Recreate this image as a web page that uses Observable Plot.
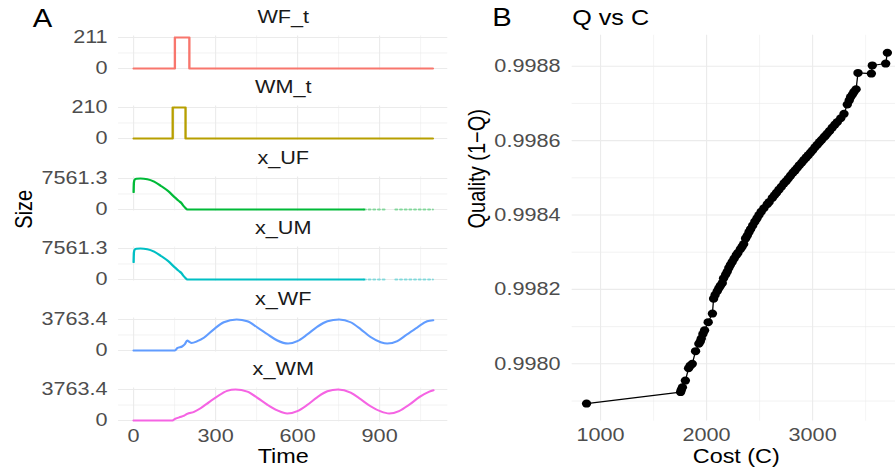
<!DOCTYPE html>
<html><head><meta charset="utf-8">
<script src="https://cdn.jsdelivr.net/npm/d3@7"></script>
<script src="https://cdn.jsdelivr.net/npm/@observablehq/plot@0.6"></script>
<style>
body{margin:0;background:#fff;overflow:hidden}
#wrap{position:relative;width:765px;height:473px;transform:scaleX(1.17);transform-origin:0 0;font-family:"Liberation Sans",Arial,sans-serif}
#wrap svg{position:absolute;overflow:visible;background:transparent}
</style></head><body><div id="wrap"></div><script>
// ---------- Panel A data ----------
const seriesNames = ["WF_t", "WM_t", "x_UF", "x_UM", "x_WF", "x_WM"];
const seriesColors = ["#F8766D", "#B79F00", "#00BA38", "#00BFC4", "#619CFF", "#F564E3"];
const seriesMax = [211, 210, 7561.3, 7561.3, 3763.4, 3763.4];
const seriesMaxLabels = ["211", "210", "7561.3", "7561.3", "3763.4", "3763.4"];
const timeTicks = [0, 300, 600, 900];
const timeMinor = [150, 450, 750, 1050];

const wfT_time = [0, 151, 151, 204, 204, 1095];
const wfT_size = [0, 0, 211, 211, 0, 0];
const wmT_time = [0, 143, 143, 190, 190, 1095];
const wmT_size = [0, 0, 210, 210, 0, 0];
const xUF_time = [0, 1, 3, 10, 25, 50, 75, 100, 125, 150, 165, 175, 182, 190, 196, 843];
const xUF_size = [4240, 6500, 7200, 7480, 7561.3, 7400, 6800, 5750, 4550, 3000, 2100, 1550, 900, 350, 0, 0];
const xUM_time = [0, 1, 3, 10, 25, 50, 75, 100, 125, 150, 165, 175, 182, 190, 196, 843];
const xUM_size = [4240, 6500, 7200, 7480, 7561.3, 7400, 6800, 5750, 4550, 3000, 2100, 1550, 900, 350, 0, 0];
const uTail_time = [843, 928, 958, 1095];
const uTail_seg = ["a", "a", "b", "b"];
const xWF_time = [0, 151, 160, 178, 188, 196, 204, 212, 233, 257, 294, 330, 377, 416, 453, 490, 526, 565, 599, 636, 672, 709, 752, 794, 831, 867, 904, 928, 965, 1001, 1038, 1074, 1096];
const xWF_size = [0, 0, 293, 500, 795, 1213, 1050, 920, 1130, 1547, 2592, 3429, 3763.4, 3554, 2800, 1965, 1213, 836, 1130, 1965, 2885, 3554, 3763.4, 3429, 2592, 1630, 1004, 836, 1130, 1965, 2800, 3554, 3680];
const xWM_time = [0, 143, 148, 167, 185, 196, 221, 245, 275, 306, 342, 373, 416, 453, 490, 526, 562, 599, 636, 672, 709, 748, 794, 831, 867, 904, 935, 971, 1008, 1045, 1082, 1097];
const xWM_size = [0, 0, 127, 380, 592, 803, 1057, 1480, 2199, 2918, 3594, 3763.4, 3510, 2749, 1903, 1226, 846, 1142, 1903, 2833, 3552, 3763.4, 3383, 2579, 1734, 1099, 846, 1142, 1903, 2833, 3510, 3678];

const seriesTime = [wfT_time, wmT_time, xUF_time, xUM_time, xWF_time, xWM_time];
const seriesSize = [wfT_size, wmT_size, xUF_size, xUM_size, xWF_size, xWM_size];

// ---------- Panel B data ----------
const cost = [868, 1755, 1762, 1772, 1800, 1830, 1845, 1865, 1896, 1927, 1940, 1950, 1965, 1981, 2015, 2055, 2066, 2080, 2100, 2115, 2130, 2148, 2160, 2180, 2195, 2210, 2225, 2242, 2260, 2280, 2295, 2318, 2335, 2350, 2368, 2384, 2400, 2415, 2435, 2455, 2475, 2494, 2515, 2540, 2572, 2590, 2620, 2640, 2660, 2682, 2705, 2730, 2750, 2770, 2792, 2815, 2835, 2855, 2875, 2898, 2918, 2940, 2960, 2981, 3000, 3022, 3044, 3065, 3085, 3107, 3120, 3138, 3160, 3185, 3210, 3233, 3265, 3296, 3327, 3345, 3358, 3375, 3390, 3410, 3428, 3554, 3563, 3689, 3705];
const quality = [0.997893, 0.997924, 0.997930, 0.997937, 0.997955, 0.997988, 0.997995, 0.998000, 0.998034, 0.998054, 0.998060, 0.998068, 0.998080, 0.998090, 0.998112, 0.998135, 0.998175, 0.998185, 0.998195, 0.998203, 0.998210, 0.998217, 0.998230, 0.998240, 0.998248, 0.998258, 0.998266, 0.998274, 0.998283, 0.998292, 0.998298, 0.998308, 0.998315, 0.998322, 0.998337, 0.998345, 0.998354, 0.998362, 0.998372, 0.998382, 0.998391, 0.998400, 0.998409, 0.998418, 0.998429, 0.998435, 0.998446, 0.998453, 0.998460, 0.998468, 0.998476, 0.998485, 0.998491, 0.998498, 0.998506, 0.998514, 0.998520, 0.998527, 0.998534, 0.998541, 0.998548, 0.998555, 0.998561, 0.998568, 0.998574, 0.998582, 0.998589, 0.998596, 0.998602, 0.998609, 0.998613, 0.998619, 0.998626, 0.998635, 0.998643, 0.998650, 0.998660, 0.998672, 0.998697, 0.998708, 0.998717, 0.998724, 0.998731, 0.998738, 0.998782, 0.998780, 0.998802, 0.998807, 0.998836];
const costTicks = [1000, 2000, 3000];
const costMinor = [1500, 2500, 3500];
const qualityTicks = [0.9980, 0.9982, 0.9984, 0.9986, 0.9988];
const qualityMinor = [0.9979, 0.9981, 0.9983, 0.9985, 0.9987];

// ---------- drawing ----------
const wrap = document.getElementById("wrap");
const FONT = "Liberation Sans, Arial, sans-serif";
const GRID = "#EBEBEB";
const TICK = "#4D4D4D";
function place(svg, left, top) {
  svg.style.position = "absolute";
  svg.style.left = left + "px";
  svg.style.top = top + "px";
  svg.style.overflow = "visible";
  svg.style.background = "transparent";
  wrap.appendChild(svg);
}

const FH = 70.4, MT = 35.45, PH = 34.1;
for (let k = 0; k < 6; k++) {
  const isLast = k === 5;
  const h = isLast ? 473 - FH * 5 : FH;
  const max = seriesMax[k];
  const data = seriesTime[k].map((t, i) => ({t, v: seriesSize[k][i]}));
  const marks = [
    Plot.ruleX(timeMinor, {stroke: GRID, strokeWidth: 0.5}),
    Plot.ruleX(timeTicks, {stroke: GRID, strokeWidth: 0.95}),
    Plot.ruleY([max / 2], {stroke: GRID, strokeWidth: 0.6}),
    Plot.ruleY([0, max], {stroke: GRID, strokeWidth: 1.1}),
    Plot.line(data, {x: "t", y: "v", stroke: seriesColors[k], strokeWidth: 2, curve: k < 2 ? "linear" : "monotone-x"}),
    Plot.axisY({ticks: [0, max], tickFormat: d => d === 0 ? "0" : seriesMaxLabels[k], tickSize: 0, tickPadding: 9.4, fontSize: 18.5, fill: TICK, label: null}),
    Plot.text([seriesNames[k]], {text: d => d, frameAnchor: "top", lineAnchor: "middle", dy: -18.45, fontSize: 18.5, fill: "#1A1A1A"})
  ];
  if (k === 2 || k === 3) {
    const tail = uTail_time.map((t, i) => ({t, v: 0, s: uTail_seg[i]}));
    marks.push(Plot.line(tail, {x: "t", y: "v", z: "s", stroke: seriesColors[k], strokeWidth: 1.8, strokeOpacity: 0.45, strokeDasharray: "1.5,2.5"}));
  }
  if (k === 0) marks.push(Plot.text(["A"], {text: d => d, frameAnchor: "top-left", textAnchor: "start", lineAnchor: "middle", dx: -73.5, dy: -17.45, fontSize: 25, fill: "#000"}));
  if (k === 2) marks.push(Plot.text(["Size"], {text: d => d, frameAnchor: "left", lineAnchor: "middle", rotate: -90, dx: -80.9, dy: 34.7, fontSize: 20, fill: "#000"}));
  if (isLast) {
    marks.push(Plot.axisX({ticks: timeTicks, tickFormat: d => String(d), tickSize: 0, tickPadding: 7, fontSize: 18.5, fill: TICK, label: null}));
    marks.push(Plot.text(["Time"], {text: d => d, frameAnchor: "bottom", lineAnchor: "middle", dy: 34.6, fontSize: 20, fill: "#000"}));
  }
  const svg = Plot.plot({
    width: 400, height: h,
    marginLeft: 100.9, marginRight: 17.7, marginTop: MT, marginBottom: h - MT - PH,
    x: isLast ? {domain: [-54.75, 1149.75]} : {domain: [-54.75, 1149.75], axis: null},
    y: {domain: [-0.05 * max, 1.05 * max]},
    style: {fontFamily: FONT, fontSize: "18.5px", background: "transparent", overflow: "visible"},
    marks
  });
  place(svg, 0, FH * k);
}

// Panel B
const qc = cost.map((c, i) => ({c, q: quality[i]}));
const svgB = Plot.plot({
  width: 365, height: 473,
  marginLeft: 88.6, marginRight: 0, marginTop: 34.8, marginBottom: 52.4,
  x: {domain: [733, 3783]},
  y: {domain: [0.997846, 0.998883]},
  style: {fontFamily: FONT, fontSize: "18.5px", background: "transparent", overflow: "visible"},
  marks: [
    Plot.ruleX(costMinor, {stroke: GRID, strokeWidth: 0.5}),
    Plot.ruleX(costTicks, {stroke: GRID, strokeWidth: 0.95}),
    Plot.ruleY(qualityMinor, {stroke: GRID, strokeWidth: 0.6}),
    Plot.ruleY(qualityTicks, {stroke: GRID, strokeWidth: 1.1}),
    Plot.line(qc, {x: "c", y: "q", stroke: "#000", strokeWidth: 1.1}),
    Plot.dot(qc, {x: "c", y: "q", r: 4, fill: "#000"}),
    Plot.axisX({ticks: costTicks, tickFormat: d => String(d), tickSize: 0, tickPadding: 6.8, fontSize: 18.5, fill: TICK, label: null}),
    Plot.axisY({ticks: qualityTicks, tickFormat: d3.format(".4f"), tickSize: 0, tickPadding: 10, fontSize: 18.5, fill: TICK, label: null}),
    Plot.text(["Q vs C"], {text: d => d, frameAnchor: "top-left", textAnchor: "start", lineAnchor: "middle", dy: -17.3, fontSize: 21.5, fill: "#000"}),
    Plot.text(["B"], {text: d => d, frameAnchor: "top-left", textAnchor: "start", lineAnchor: "middle", dx: -68.3, dy: -17.0, fontSize: 25, fill: "#000"}),
    Plot.text(["Quality (1\u2212Q)"], {text: d => d, frameAnchor: "left", lineAnchor: "middle", rotate: -90, dx: -80.9, dy: 0.3, fontSize: 20, fill: "#000"}),
    Plot.text(["Cost (C)"], {text: d => d, frameAnchor: "bottom", lineAnchor: "middle", dx: 2, dy: 35.2, fontSize: 20, fill: "#000"})
  ]
});
place(svgB, 400, 0);
</script></body></html>
